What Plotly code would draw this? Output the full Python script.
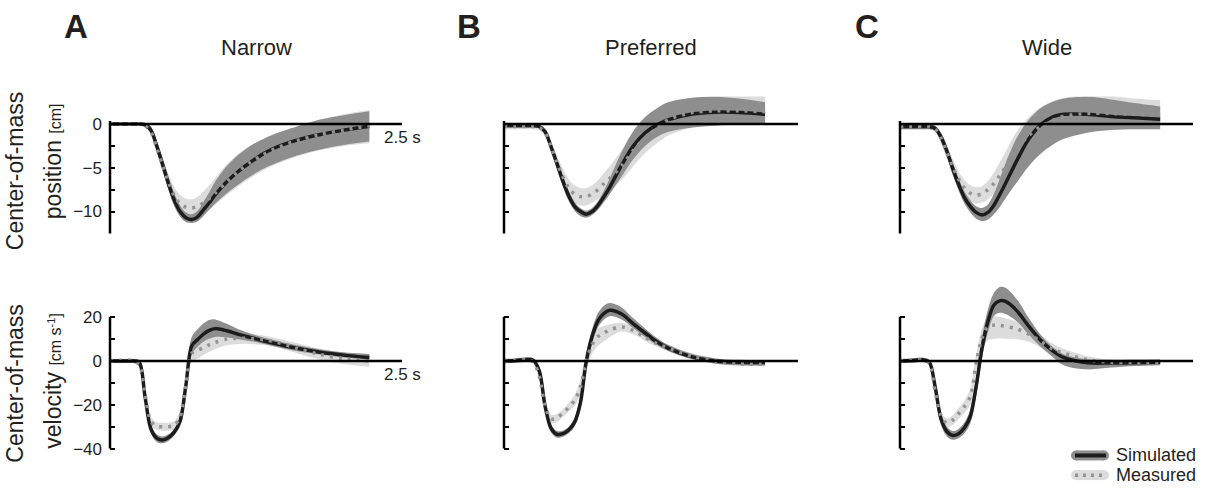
import plotly.graph_objects as go

# ---------------- data ----------------
T = [0, 0.1, 0.2, 0.25, 0.3, 0.35, 0.4, 0.45, 0.5, 0.55, 0.6, 0.65, 0.7, 0.75,
     0.8, 0.85, 0.9, 1.0, 1.1, 1.2, 1.3, 1.4, 1.6, 1.8, 2.0, 2.22]

conditions = ["Narrow", "Preferred", "Wide"]
panel_letters = ["A", "B", "C"]

# Narrow - position [cm]
narrow_pos_sim = [0, 0, 0, 0, -0.1, -0.7, -2.5, -4.6, -6.8, -8.7, -10.0, -10.7, -10.9, -10.6, -9.8, -9.0, -8.1, -6.6, -5.4, -4.4, -3.5, -2.8, -1.85, -1.2, -0.7, -0.25]
narrow_pos_meas = [0, 0, 0, 0, -0.2, -0.9, -2.7, -4.7, -6.6, -8.2, -9.1, -9.5, -9.6, -9.4, -9.0, -8.5, -7.9, -6.6, -5.4, -4.4, -3.6, -2.9, -1.9, -1.2, -0.7, -0.2]
narrow_pos_sim_hi = [0.15, 0.15, 0.15, 0.15, 0.1, -0.3, -1.9, -3.9, -6.0, -7.9, -9.3, -10.1, -10.3, -9.9, -8.9, -7.8, -6.6, -4.8, -3.5, -2.5, -1.8, -1.2, -0.3, 0.5, 1.0, 1.45]
narrow_pos_sim_lo = [-0.15, -0.15, -0.15, -0.15, -0.3, -1.1, -3.1, -5.3, -7.5, -9.4, -10.6, -11.2, -11.3, -11.1, -10.5, -9.8, -9.1, -7.9, -6.9, -6.0, -5.2, -4.6, -3.6, -2.9, -2.4, -2.0]
narrow_pos_meas_hi = [0.2, 0.2, 0.2, 0.2, 0.1, -0.4, -2.0, -3.9, -5.7, -7.2, -8.1, -8.5, -8.6, -8.3, -7.7, -7.0, -6.2, -4.6, -3.4, -2.5, -1.8, -1.2, -0.3, 0.5, 1.1, 1.6]
narrow_pos_meas_lo = [-0.2, -0.2, -0.2, -0.2, -0.4, -1.3, -3.3, -5.4, -7.4, -9.0, -9.9, -10.3, -10.4, -10.3, -10.0, -9.6, -9.2, -8.1, -7.1, -6.2, -5.4, -4.7, -3.7, -3.0, -2.5, -2.2]

# Narrow - velocity [cm/s]
narrow_vel_sim = [0, 0, 0, -0.5, -16.3, -31.0, -35.2, -36.1, -35.0, -32.5, -27.5, -11.0, 7.0, 9.8, 12.3, 14.0, 14.8, 13.8, 12.2, 10.8, 9.4, 8.1, 5.8, 4.0, 2.7, 1.6]
narrow_vel_meas = [0, 0.3, 0.2, -1.5, -15.0, -27.5, -29.8, -30.0, -30.0, -29.5, -25.5, -11.0, 3.5, 5.0, 6.0, 7.5, 8.5, 10.0, 10.4, 10.3, 9.8, 9.0, 5.8, 3.0, 1.0, 0.0]
narrow_vel_sim_hi = [0.8, 0.8, 0.8, 0.3, -14.0, -29.0, -33.5, -34.5, -33.5, -31.0, -25.5, -8.0, 11.0, 14.5, 17.2, 18.8, 19.0, 17.0, 14.5, 12.6, 11.0, 9.6, 7.2, 5.3, 4.0, 3.2]
narrow_vel_sim_lo = [-0.8, -0.8, -0.8, -2.5, -18.5, -33.0, -37.0, -37.6, -36.5, -34.0, -29.5, -14.0, 3.0, 6.5, 8.8, 10.2, 11.0, 10.8, 10.0, 9.1, 8.0, 6.8, 4.6, 3.0, 1.6, 0.6]
narrow_vel_meas_hi = [1.0, 1.0, 1.0, 0.2, -13.0, -25.5, -28.0, -28.2, -28.2, -27.5, -23.0, -7.0, 8.0, 10.0, 11.0, 11.6, 12.0, 12.5, 12.6, 12.4, 11.8, 10.8, 8.2, 5.6, 3.8, 2.8]
narrow_vel_meas_lo = [-1.0, -1.0, -1.0, -3.0, -17.0, -29.5, -31.5, -31.8, -31.8, -31.5, -28.0, -15.0, -0.5, 1.2, 2.8, 4.2, 5.5, 7.2, 7.8, 7.8, 7.4, 6.6, 3.6, 0.6, -1.4, -2.6]

# Preferred - position
pref_pos_sim = [-0.2, -0.2, -0.2, -0.2, -0.3, -0.9, -2.6, -4.5, -6.5, -8.2, -9.4, -10.0, -10.3, -10.0, -9.3, -8.3, -7.2, -4.7, -2.5, -1.0, -0.1, 0.5, 1.15, 1.35, 1.3, 1.1]
pref_pos_meas = [-0.3, -0.3, -0.3, -0.3, -0.4, -1.0, -2.6, -4.4, -6.0, -7.3, -8.0, -8.3, -8.3, -8.0, -7.5, -6.8, -6.2, -4.8, -3.0, -1.6, -0.5, 0.5, 1.3, 1.5, 1.5, 1.4]
pref_pos_sim_hi = [-0.05, -0.05, -0.05, -0.05, -0.1, -0.6, -2.1, -3.9, -5.9, -7.6, -8.9, -9.6, -9.9, -9.6, -8.8, -7.6, -6.2, -3.2, -0.8, 0.8, 1.8, 2.5, 3.0, 3.1, 2.9, 2.5]
pref_pos_sim_lo = [-0.35, -0.35, -0.35, -0.35, -0.5, -1.2, -3.1, -5.1, -7.1, -8.8, -9.9, -10.5, -10.7, -10.4, -9.8, -8.9, -8.0, -6.0, -4.0, -2.5, -1.5, -0.9, -0.4, -0.2, -0.1, -0.1]
pref_pos_meas_hi = [0.0, 0.0, 0.0, 0.0, -0.1, -0.5, -1.9, -3.6, -5.1, -6.3, -7.0, -7.3, -7.3, -7.0, -6.4, -5.6, -4.8, -3.0, -1.2, 0.3, 1.3, 2.0, 2.8, 3.2, 3.3, 3.2]
pref_pos_meas_lo = [-0.6, -0.6, -0.6, -0.6, -0.7, -1.5, -3.3, -5.2, -6.9, -8.3, -9.0, -9.3, -9.3, -9.0, -8.6, -8.0, -7.5, -6.4, -4.8, -3.3, -2.2, -1.3, -0.4, 0.0, 0.1, 0.1]

# Preferred - velocity
pref_vel_sim = [0, 0.2, 0.7, 0.3, -4.5, -20.8, -30.8, -33.5, -33.2, -31.5, -28.0, -19.0, 0.0, 11.4, 18.5, 21.8, 23.2, 21.5, 17.0, 12.8, 8.8, 5.8, 1.9, 0.0, -0.6, -0.7]
pref_vel_meas = [0, 0.2, 0.5, -0.5, -7.0, -20.5, -26.5, -26.0, -23.8, -21.2, -18.0, -12.0, 0.0, 7.6, 11.2, 12.8, 14.2, 15.6, 14.0, 10.8, 8.0, 5.8, 2.2, -0.1, -1.3, -1.5]
pref_vel_sim_hi = [1.0, 1.2, 1.7, 1.3, -3.0, -18.5, -29.0, -32.0, -31.8, -30.0, -26.0, -16.0, 3.5, 14.5, 22.0, 25.3, 26.5, 24.5, 19.5, 14.8, 10.5, 7.3, 3.2, 1.2, 0.6, 0.5]
pref_vel_sim_lo = [-1.0, -0.8, -0.3, -0.8, -6.5, -23.0, -32.5, -35.0, -34.6, -33.0, -30.0, -22.0, -3.5, 8.0, 15.5, 19.0, 20.5, 19.0, 15.0, 11.0, 7.3, 4.5, 0.8, -1.2, -1.9, -2.0]
pref_vel_meas_hi = [1.0, 1.2, 1.5, 0.5, -5.5, -19.0, -24.5, -24.2, -22.0, -19.2, -15.5, -8.5, 4.0, 12.0, 15.0, 16.0, 16.8, 17.5, 15.8, 12.5, 9.5, 7.0, 3.5, 1.0, -0.3, -0.6]
pref_vel_meas_lo = [-1.0, -0.8, -0.5, -1.5, -8.5, -22.0, -28.5, -27.8, -25.6, -23.2, -20.5, -15.5, -4.0, 3.5, 7.0, 9.0, 11.0, 13.5, 12.2, 9.2, 6.6, 4.6, 1.0, -1.2, -2.3, -2.4]

# Wide - position
wide_pos_sim = [-0.3, -0.3, -0.3, -0.3, -0.5, -1.5, -3.1, -5.1, -6.9, -8.4, -9.4, -10.1, -10.4, -10.1, -9.3, -8.1, -6.8, -4.1, -1.7, -0.1, 0.8, 1.1, 1.1, 0.85, 0.7, 0.55]
wide_pos_meas = [-0.3, -0.3, -0.3, -0.3, -0.6, -1.6, -3.2, -4.9, -6.3, -7.3, -7.9, -8.1, -8.0, -7.5, -6.8, -5.9, -4.9, -2.8, -1.3, -0.3, 0.4, 0.9, 1.2, 1.2, 1.1, 1.05]
wide_pos_sim_hi = [0.0, 0.0, 0.0, 0.0, -0.2, -1.0, -2.5, -4.4, -6.2, -7.7, -8.7, -9.4, -9.6, -9.2, -8.0, -6.3, -4.5, -1.5, 0.5, 1.8, 2.5, 2.9, 3.1, 2.8, 2.4, 2.0]
wide_pos_sim_lo = [-0.6, -0.6, -0.6, -0.6, -0.8, -2.0, -3.7, -5.8, -7.6, -9.1, -10.1, -10.8, -11.1, -10.9, -10.3, -9.5, -8.5, -6.6, -4.8, -3.4, -2.4, -1.7, -1.0, -0.7, -0.6, -0.6]
wide_pos_meas_hi = [0.0, 0.0, 0.0, 0.0, -0.3, -1.0, -2.4, -4.0, -5.4, -6.4, -7.0, -7.2, -7.1, -6.5, -5.6, -4.4, -3.2, -0.8, 0.8, 1.9, 2.6, 3.0, 3.3, 3.2, 2.9, 2.7]
wide_pos_meas_lo = [-0.6, -0.6, -0.6, -0.6, -0.9, -2.2, -4.0, -5.8, -7.2, -8.2, -8.8, -9.1, -9.0, -8.6, -8.0, -7.3, -6.5, -4.8, -3.5, -2.4, -1.6, -1.0, -0.4, -0.2, -0.1, -0.1]

# Wide - velocity
wide_vel_sim = [0, 0.2, 0.5, -0.5, -11.8, -26.5, -32.2, -34.0, -33.2, -30.5, -25.3, -11.5, 6.0, 18.0, 25.5, 27.5, 27.2, 22.8, 15.8, 9.5, 4.8, 1.5, -0.8, -0.9, -0.8, -0.6]
wide_vel_meas = [0, 0.3, 0.4, -1.0, -14.0, -25.0, -28.3, -27.0, -24.0, -20.8, -16.3, -1.0, 10.5, 15.8, 16.4, 16.3, 15.8, 14.6, 12.2, 9.0, 5.5, 3.5, 0.6, -0.6, -0.7, -0.7]
wide_vel_sim_hi = [1.0, 1.2, 1.5, 0.5, -9.5, -24.0, -30.0, -32.0, -31.0, -28.0, -22.0, -7.0, 11.0, 23.5, 31.0, 33.8, 33.5, 28.0, 19.5, 12.0, 6.5, 3.0, 0.8, 0.6, 0.7, 0.8]
wide_vel_sim_lo = [-1.0, -0.8, -0.5, -1.5, -14.0, -29.0, -34.5, -36.0, -35.3, -33.0, -28.5, -16.0, 1.5, 13.0, 20.5, 22.0, 21.5, 18.0, 12.0, 6.5, 2.0, -2.0, -3.8, -3.0, -2.3, -1.9]
wide_vel_meas_hi = [1.0, 1.2, 1.3, 0.2, -12.0, -23.0, -26.3, -24.8, -21.5, -18.0, -12.5, 3.0, 15.0, 20.0, 20.5, 20.2, 19.5, 18.0, 15.3, 11.8, 8.0, 5.5, 2.2, 0.7, 0.4, 0.3]
wide_vel_meas_lo = [-1.0, -0.6, -0.5, -2.2, -16.0, -27.0, -30.3, -29.2, -26.5, -23.6, -20.0, -5.0, 5.0, 9.5, 10.2, 10.3, 10.2, 10.0, 8.8, 6.2, 3.0, 1.5, -1.0, -1.9, -1.8, -1.7]

pos_tickvals = [0, -5, -10]
pos_ticktext = ["0", "\u22125", "\u221210"]
pos_minor_ticks = [-2.5, -7.5, -12.5]
vel_tickvals = [20, 0, -20, -40]
vel_ticktext = ["20", "0", "\u221220", "\u221240"]
vel_minor_ticks = [10, -10, -30]

# ---------------- styling ----------------
FONT = "Liberation Sans, Arial, Helvetica, sans-serif"
TXT = "#231f20"
SIM_C = "#1c1c1c"
SIM_BAND = "#8e8e8e"
MEAS_C = "#939393"
MEAS_BAND = "#dcdcdc"

W, H = 1207, 492

fig = go.Figure()

xdom = [(110, 402), (504, 798), (900, 1193)]
ydom_pos = (98, 238)
ydom_vel = (288, 458)
pos_range = [-12.58, 3.15]
vel_range = [-40.9, 35.5]
T_END = 2.5

rows = [
    [(narrow_pos_sim, narrow_pos_meas, narrow_pos_sim_lo, narrow_pos_sim_hi, narrow_pos_meas_lo, narrow_pos_meas_hi),
     (pref_pos_sim, pref_pos_meas, pref_pos_sim_lo, pref_pos_sim_hi, pref_pos_meas_lo, pref_pos_meas_hi),
     (wide_pos_sim, wide_pos_meas, wide_pos_sim_lo, wide_pos_sim_hi, wide_pos_meas_lo, wide_pos_meas_hi)],
    [(narrow_vel_sim, narrow_vel_meas, narrow_vel_sim_lo, narrow_vel_sim_hi, narrow_vel_meas_lo, narrow_vel_meas_hi),
     (pref_vel_sim, pref_vel_meas, pref_vel_sim_lo, pref_vel_sim_hi, pref_vel_meas_lo, pref_vel_meas_hi),
     (wide_vel_sim, wide_vel_meas, wide_vel_sim_lo, wide_vel_sim_hi, wide_vel_meas_lo, wide_vel_meas_hi)],
]

def px2paper_x(px):
    return px / W

def px2paper_y(py):
    return 1 - py / H

layout_axes = {}
shapes = []
annotations = []
SM = 0.9

for r in range(2):
    for c in range(3):
        idx = r * 3 + c + 1
        xa = "x" if idx == 1 else f"x{idx}"
        ya = "y" if idx == 1 else f"y{idx}"
        sim, meas, s_lo, s_hi, m_lo, m_hi = rows[r][c]
        common = dict(xaxis=xa, yaxis=ya, x=T, showlegend=False, hoverinfo="skip")
        # measured band (light)
        fig.add_trace(go.Scatter(y=m_lo, mode="lines", line=dict(width=0, color=MEAS_BAND, shape="spline", smoothing=SM), **common))
        fig.add_trace(go.Scatter(y=m_hi, mode="lines", line=dict(width=0, color=MEAS_BAND, shape="spline", smoothing=SM),
                                 fill="tonexty", fillcolor=MEAS_BAND, **common))
        # simulated band (dark)
        fig.add_trace(go.Scatter(y=s_lo, mode="lines", line=dict(width=0, color=SIM_BAND, shape="spline", smoothing=SM), **common))
        fig.add_trace(go.Scatter(y=s_hi, mode="lines", line=dict(width=0, color=SIM_BAND, shape="spline", smoothing=SM),
                                 fill="tonexty", fillcolor=SIM_BAND, **common))
        # simulated mean
        fig.add_trace(go.Scatter(y=sim, mode="lines", line=dict(width=3.5, color=SIM_C, shape="spline", smoothing=SM), **common))
        # measured mean (dotted)
        fig.add_trace(go.Scatter(y=meas, mode="lines", line=dict(width=3.5, color=MEAS_C, dash="3px,6px", shape="spline", smoothing=SM), **common))

        x0, x1 = xdom[c]
        yd = ydom_pos if r == 0 else ydom_vel
        layout_axes["xaxis" if idx == 1 else f"xaxis{idx}"] = dict(
            domain=[px2paper_x(x0), px2paper_x(x1)], range=[0, T_END], anchor=ya,
            visible=False, fixedrange=True)
        if r == 0:
            tv, tt, mt, rng, ytop, ybot = pos_tickvals, pos_ticktext, pos_minor_ticks, pos_range, 0.35, -12.5
        else:
            tv, tt, mt, rng, ytop, ybot = vel_tickvals, vel_ticktext, vel_minor_ticks, vel_range, 20.2, -40
        layout_axes["yaxis" if idx == 1 else f"yaxis{idx}"] = dict(
            domain=[px2paper_y(yd[1]), px2paper_y(yd[0])], range=rng, anchor=xa,
            showline=False, showgrid=False, zeroline=False,
            ticks="inside", ticklen=5, tickwidth=2, tickcolor="black",
            tickvals=tv, ticktext=tt, showticklabels=(c == 0),
            minor=dict(tickvals=mt, ticks="inside", ticklen=5, tickwidth=2, tickcolor="black", showgrid=False),
            tickfont=dict(size=17, family=FONT, color=TXT), ticklabelstandoff=7,
            fixedrange=True)
        # y axis line (partial) and zero line
        shapes.append(dict(type="line", xref=f"{xa} domain", yref=ya, x0=0, x1=0, y0=ybot, y1=ytop,
                           line=dict(color="black", width=2.5), layer="above"))
        shapes.append(dict(type="line", xref=f"{xa} domain", yref=ya, x0=0, x1=1, y0=0, y1=0,
                           line=dict(color="black", width=2.6), layer="above"))
        if c == 0:
            annotations.append(dict(xref=xa, yref=ya, x=T_END, y=0, text="2.5 s", showarrow=False,
                                    xanchor="center", yanchor="top", yshift=-2,
                                    font=dict(size=17, family=FONT, color=TXT)))

# panel letters and titles
letter_x = [76, 469, 867]
for c in range(3):
    annotations.append(dict(xref="paper", yref="paper", x=px2paper_x(letter_x[c]), y=px2paper_y(27),
                            text=f"<b>{panel_letters[c]}</b>", showarrow=False, xanchor="center", yanchor="middle",
                            font=dict(size=33, family=FONT, color=TXT)))
    cx = (xdom[c][0] + xdom[c][1]) / 2
    annotations.append(dict(xref="paper", yref="paper", x=px2paper_x(cx), y=px2paper_y(48),
                            text=conditions[c], showarrow=False, xanchor="center", yanchor="middle",
                            font=dict(size=22, family=FONT, color=TXT)))

# y-axis titles
ylab = [
    ("Center-of-mass", 15, 174),
    ("position <span style='font-size:16px'>[cm]</span>", 53, 164),
    ("Center-of-mass", 15, 390),
    ("velocity <span style='font-size:16px'>[cm s<sup>-1</sup>]</span>", 53, 387),
]
for text, xx, yy in ylab:
    annotations.append(dict(xref="paper", yref="paper", x=px2paper_x(xx), y=px2paper_y(yy), text=text,
                            textangle=-90, showarrow=False, xanchor="center", yanchor="middle",
                            font=dict(size=23, family=FONT, color=TXT)))

# legend (drawn manually)
leg = [("Simulated", 463, SIM_BAND, SIM_C, None, 4), ("Measured", 483, MEAS_BAND, MEAS_C, "3px,5px", 3.5)]
for name, ly, band_c, line_c, dash, lw in leg:
    yy = px2paper_y(ly)
    shapes.append(dict(type="line", xref="paper", yref="paper", x0=px2paper_x(1076), x1=px2paper_x(1104),
                       y0=yy, y1=yy, line=dict(color=band_c, width=10)))
    for ex in (1076, 1104):
        shapes.append(dict(type="circle", xref="paper", yref="paper",
                           x0=px2paper_x(ex - 5), x1=px2paper_x(ex + 5),
                           y0=px2paper_y(ly + 5), y1=px2paper_y(ly - 5),
                           fillcolor=band_c, line=dict(width=0)))
    shapes.append(dict(type="line", xref="paper", yref="paper", x0=px2paper_x(1075), x1=px2paper_x(1106),
                       y0=yy, y1=yy, line=dict(color=line_c, width=lw, dash=dash) if dash else dict(color=line_c, width=lw)))
    annotations.append(dict(xref="paper", yref="paper", x=px2paper_x(1114), y=yy, text=name, showarrow=False,
                            xanchor="left", yanchor="middle", font=dict(size=18, family=FONT, color=TXT)))

fig.update_layout(
    width=W, height=H, margin=dict(l=0, r=0, t=0, b=0),
    paper_bgcolor="white", plot_bgcolor="white",
    shapes=shapes, annotations=annotations, showlegend=False,
    font=dict(family=FONT, color=TXT),
    **layout_axes,
)

# remove the browser's default page margin so the figure fills the window
fig.write_html("out.html", config={"displayModeBar": False},
               post_script="document.body.style.margin='0';document.body.style.overflow='hidden';")
